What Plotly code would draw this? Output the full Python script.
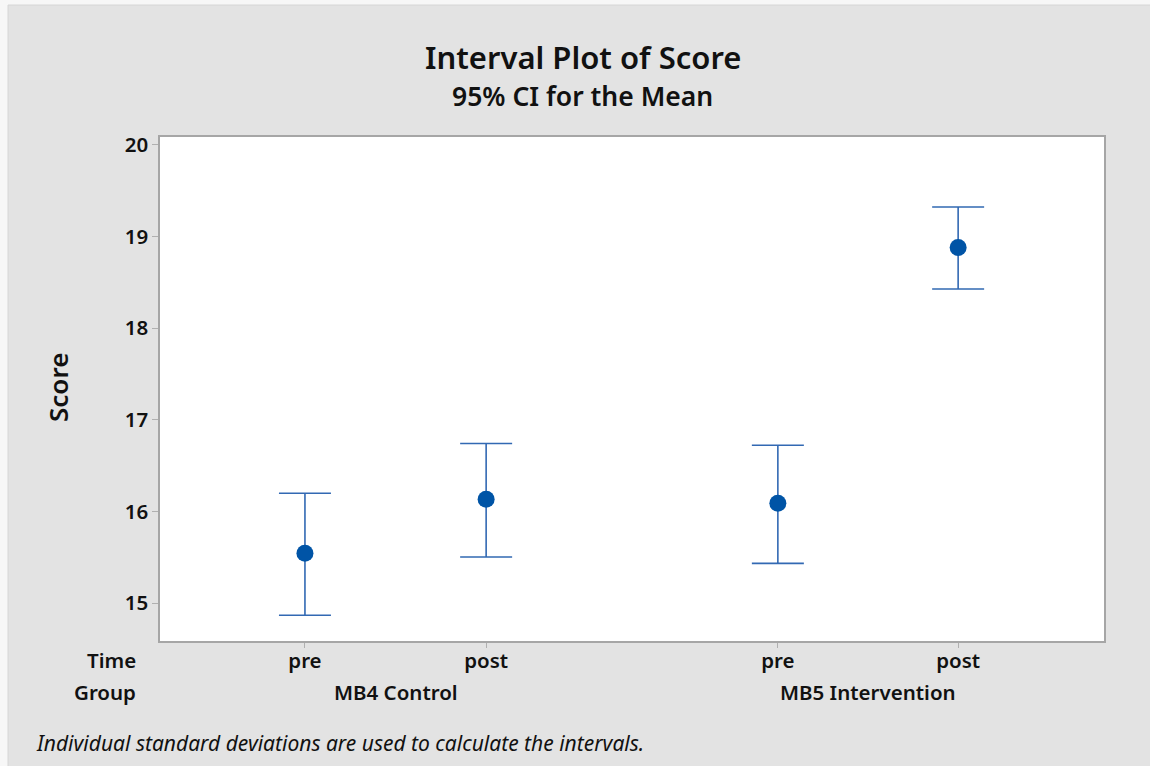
import plotly.graph_objects as go

# ---- data ----
time_labels = ["pre", "post", "pre", "post"]
group_labels = ["MB4 Control", "MB5 Intervention"]
x_pos = [1.0, 2.0, 3.61, 4.605]          # category positions on the axis
means = [15.545, 16.134, 16.09, 18.879]
upper = [16.20, 16.742, 16.723, 19.322]
lower = [14.87, 15.505, 15.436, 18.428]
y_ticks = [15, 16, 17, 18, 19, 20]

W, H = 1150, 766
L, R, T, B = 160, 46, 137, 125
pw, ph = W - L - R, H - T - B

def px(x):
    return (x - L) / pw

def py(y):
    return (H - B - y) / ph

FONT = "Noto Sans"
err_plus = [u - m for u, m in zip(upper, means)]
err_minus = [m - l for m, l in zip(means, lower)]

fig = go.Figure()
fig.add_trace(go.Scatter(
    x=x_pos, y=means, mode="markers",
    marker=dict(size=17, color="#0054A6"),
    error_y=dict(type="data", array=err_plus, arrayminus=err_minus,
                 symmetric=False, color="#3269B3", thickness=1.6, width=26),
    showlegend=False, hoverinfo="y",
))

shapes = [
    # light outer strips on left and top
    dict(type="rect", xref="paper", yref="paper", layer="below",
         x0=px(-2), x1=px(8), y0=py(770), y1=py(-2),
         fillcolor="#F7F7F7", line=dict(width=0)),
    dict(type="rect", xref="paper", yref="paper", layer="below",
         x0=px(-2), x1=px(1152), y0=py(5), y1=py(-2),
         fillcolor="#F7F7F7", line=dict(width=0)),
    dict(type="line", xref="paper", yref="paper", layer="below",
         x0=px(8), x1=px(8), y0=py(770), y1=py(5),
         line=dict(color="#D6D6D6", width=1)),
    dict(type="line", xref="paper", yref="paper", layer="below",
         x0=px(8), x1=px(1152), y0=py(5), y1=py(5),
         line=dict(color="#D6D6D6", width=1)),
    dict(type="rect", xref="paper", yref="paper", layer="below",
         x0=0, x1=1, y0=0, y1=1, fillcolor="white", line=dict(width=0)),
]

ann = []
ann.append(dict(text="Interval Plot of Score", xref="paper", yref="paper",
                x=px(583), y=py(57), xanchor="center", yanchor="middle",
                showarrow=False, font=dict(family=FONT, size=31, color="#111", weight=600)))
ann.append(dict(text="95% CI for the Mean", xref="paper", yref="paper",
                x=px(582), y=py(96), xanchor="center", yanchor="middle",
                showarrow=False, font=dict(family=FONT, size=26.5, color="#111", weight=600)))
ann.append(dict(text="Score", xref="paper", yref="paper", textangle=-90,
                x=px(58), y=py(388), xanchor="center", yanchor="middle",
                showarrow=False, font=dict(family=FONT, size=26, color="#111", weight=600)))
ann.append(dict(text="Time", xref="paper", yref="paper",
                x=px(138), y=py(660), xanchor="right", yanchor="middle",
                showarrow=False, font=dict(family=FONT, size=20.5, color="#111", weight=600)))
ann.append(dict(text="Group", xref="paper", yref="paper",
                x=px(138), y=py(692), xanchor="right", yanchor="middle",
                showarrow=False, font=dict(family=FONT, size=20.5, color="#111", weight=600)))
for i, g in enumerate(group_labels):
    xc = (x_pos[2 * i] + x_pos[2 * i + 1]) / 2
    ann.append(dict(text=g, xref="x", yref="paper", x=xc, y=py(692),
                    xanchor="center", yanchor="middle", showarrow=False,
                    font=dict(family=FONT, size=20.5, color="#111", weight=600)))
ann.append(dict(text="<i>Individual standard deviations are used to calculate the intervals.</i>",
                xref="paper", yref="paper", x=px(34), y=py(743),
                xanchor="left", yanchor="middle", showarrow=False,
                font=dict(family=FONT, size=21, color="#111")))

fig.update_layout(
    width=W, height=H,
    margin=dict(l=L, r=R, t=T, b=B, pad=0),
    paper_bgcolor="#E3E3E3", plot_bgcolor="rgba(0,0,0,0)",
    shapes=shapes, annotations=ann,
    xaxis=dict(range=[0.2, 5.41], tickmode="array", tickvals=x_pos, ticktext=time_labels,
               showgrid=False, zeroline=False, showline=True, mirror=True,
               linecolor="#A6A6A6", linewidth=1.5, ticks="outside", ticklen=5,
               tickcolor="#B0B0B0", tickwidth=1, ticklabelstandoff=-4,
               tickfont=dict(family=FONT, size=20.5, color="#111", weight=600)),
    yaxis=dict(range=[14.589, 20.085], tickmode="array", tickvals=y_ticks,
               showgrid=False, zeroline=False, showline=True, mirror=True,
               linecolor="#A6A6A6", linewidth=1.5, ticks="outside", ticklen=6,
               tickcolor="#B0B0B0", tickwidth=1,
               tickfont=dict(family=FONT, size=20.5, color="#111", weight=600)),
)

fig.write_html("out.html", config={"displayModeBar": False},
               post_script="document.body.style.margin='0';document.body.style.overflow='hidden';")
